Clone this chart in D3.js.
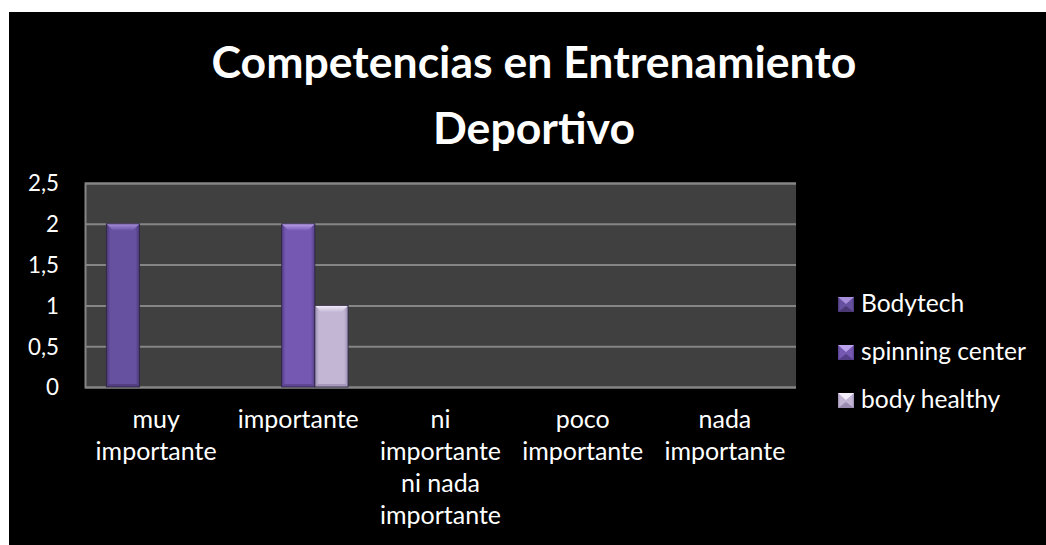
<!DOCTYPE html>
<html>
<head>
<meta charset="utf-8">
<script src="https://cdn.jsdelivr.net/npm/d3@7"></script>
<style>
body { margin: 0; background: #fff; }
svg { display: block; }
</style>
</head>
<body>
<svg></svg>
<script>
const width = 1046;
const height = 545;

// data
const categories = ["muy importante", "importante", "ni importante ni nada importante", "poco importante", "nada importante"];
const categoryLines = [["muy", "importante"], ["importante"], ["ni", "importante", "ni nada", "importante"], ["poco", "importante"], ["nada", "importante"]];
const seriesNames = ["Bodytech", "spinning center", "body healthy"];
const bodytech = [2, 0, 0, 0, 0];
const spinningCenter = [0, 2, 0, 0, 0];
const bodyHealthy = [0, 1, 0, 0, 0];
const yTicks = [0, 0.5, 1, 1.5, 2, 2.5];
const titleLines = ["Competencias en Entrenamiento", "Deportivo"];

const seriesValues = [bodytech, spinningCenter, bodyHealthy];
const colors = [
  {dark: "#4a3875", mid: "#6650a0", light: "#a88fdc"},
  {dark: "#553f88", mid: "#7558b2", light: "#bba2ec"},
  {dark: "#9a8cb0", mid: "#c2b6d4", light: "#f4eefb"}
];

const fontFamily = "Lato, 'Open Sans', sans-serif";
const plot = {left: 85, right: 796, top: 183, bottom: 387};

const svg = d3.select('svg').attr('width', width).attr('height', height);

// font size helper: scale so a sample string gets a given width
function fitSize(text, target, weight) {
  const t = svg.append('text').attr('font-family', fontFamily)
      .attr('font-weight', weight || 'normal').attr('font-size', 20).text(text);
  const w = t.node().getComputedTextLength();
  t.remove();
  return 20 * target / w;
}
const titleSize = fitSize(titleLines[0], 645, 'bold');
const catSize = fitSize("importante", 121);
const tickSize = fitSize("2,5", 31);
const legendSize = fitSize("spinning center", 165);

const defs = svg.append('defs');
colors.forEach((c, i) => {
  const g = defs.append('linearGradient').attr('id', 'bar' + i)
      .attr('x1', 0).attr('x2', 1).attr('y1', 0).attr('y2', 0);
  g.append('stop').attr('offset', '0%').attr('stop-color', c.dark);
  g.append('stop').attr('offset', '12%').attr('stop-color', c.mid);
  g.append('stop').attr('offset', '50%').attr('stop-color', c.mid);
  g.append('stop').attr('offset', '88%').attr('stop-color', c.mid);
  g.append('stop').attr('offset', '100%').attr('stop-color', c.dark);
  const t = defs.append('linearGradient').attr('id', 'top' + i)
      .attr('x1', 0).attr('x2', 0).attr('y1', 0).attr('y2', 1);
  t.append('stop').attr('offset', '0%').attr('stop-color', c.light);
  t.append('stop').attr('offset', '100%').attr('stop-color', c.mid);
});

// black chart box
svg.append('rect').attr('x', 9).attr('y', 12).attr('width', width - 9).attr('height', height - 12)
    .attr('fill', '#000');

const x0 = d3.scaleBand().domain(categories).range([plot.left, plot.right]).padding(0);
const x1 = d3.scaleBand().domain(seriesNames)
    .range([x0.bandwidth() * 0.15, x0.bandwidth() * 0.85]).padding(0);
const y = d3.scaleLinear().domain([0, 2.5]).range([plot.bottom, plot.top]);

const fmt = d3.formatLocale({decimal: ",", thousands: ".", grouping: [3], currency: ["", ""]}).format(".1~f");

// plot background
svg.append('rect').attr('x', plot.left).attr('y', plot.top)
    .attr('width', plot.right - plot.left).attr('height', plot.bottom - plot.top)
    .attr('fill', '#404040');

// gridlines
svg.append('g').attr('transform', `translate(${plot.left},0)`)
    .call(d3.axisLeft(y).tickValues(yTicks).tickSize(-(plot.right - plot.left)).tickFormat(''))
    .call(g => g.select('.domain').attr('stroke', '#858585').attr('stroke-width', 2))
    .call(g => g.selectAll('.tick line').attr('stroke', '#858585').attr('stroke-width', 2));

// y tick labels
svg.append('g').attr('transform', `translate(59,0)`)
    .call(d3.axisLeft(y).tickValues(yTicks).tickSize(0).tickPadding(0).tickFormat(fmt))
    .call(g => g.select('.domain').remove())
    .call(g => g.selectAll('text').attr('fill', '#fff').attr('font-family', fontFamily)
        .attr('font-size', tickSize).attr('dy', '0.35em'));

// bars
const bars = svg.append('g');
seriesNames.forEach((name, si) => {
  seriesValues[si].forEach((v, ci) => {
    if (!v) return;
    const bx = x0(categories[ci]) + x1(name);
    const bw = x1.bandwidth();
    const by = y(v);
    const bh = y(0) - by;
    const b = 7;
    const g = bars.append('g');
    g.append('rect').attr('x', bx).attr('y', by).attr('width', bw).attr('height', bh)
        .attr('fill', `url(#bar${si})`);
    g.append('polygon')
        .attr('points', [[bx, by], [bx + bw, by], [bx + bw - b, by + b], [bx + b, by + b]].join(' '))
        .attr('fill', `url(#top${si})`);
    g.append('polygon')
        .attr('points', [[bx, by + bh], [bx + bw, by + bh], [bx + bw - 3, by + bh - 3], [bx + 3, by + bh - 3]].join(' '))
        .attr('fill', colors[si].dark).attr('opacity', 0.7);
    g.append('rect').attr('x', bx).attr('y', by).attr('width', bw).attr('height', bh)
        .attr('fill', 'none').attr('stroke', '#2b2240').attr('stroke-width', 0.8);
  });
});

// category labels
const xAxis = svg.append('g').attr('transform', `translate(0,${plot.bottom})`)
    .call(d3.axisBottom(x0).tickSize(0).tickFormat(''))
    .call(g => g.select('.domain').remove());
xAxis.selectAll('.tick').each(function (d, i) {
  const t = d3.select(this).append('text').attr('fill', '#fff').attr('font-family', fontFamily)
      .attr('font-size', catSize).attr('text-anchor', 'middle');
  categoryLines[i].forEach((line, li) => {
    t.append('tspan').attr('x', 0).attr('y', 41 + li * 32).text(line);
  });
});

// title
svg.append('text').attr('x', 534).attr('text-anchor', 'middle')
    .attr('font-family', fontFamily).attr('font-weight', 'bold').attr('font-size', titleSize)
    .attr('fill', '#fff')
    .selectAll('tspan').data(titleLines).enter().append('tspan')
    .attr('x', 534).attr('y', (d, i) => 78 + i * 66).text(d => d);

// legend
const legend = svg.append('g').attr('transform', 'translate(838,297)');
seriesNames.forEach((name, i) => {
  const row = legend.append('g').attr('transform', `translate(0,${i * 48})`);
  row.append('rect').attr('width', 16).attr('height', 15).attr('fill', `url(#bar${i})`);
  row.append('polygon').attr('points', '0,0 16,0 8,7').attr('fill', colors[i].light);
  row.append('polygon').attr('points', '0,15 16,15 8,9').attr('fill', colors[i].dark);
  row.append('text').attr('x', 23).attr('y', 15).attr('fill', '#fff')
      .attr('font-family', fontFamily).attr('font-size', legendSize).text(name);
});
</script>
</body>
</html>
